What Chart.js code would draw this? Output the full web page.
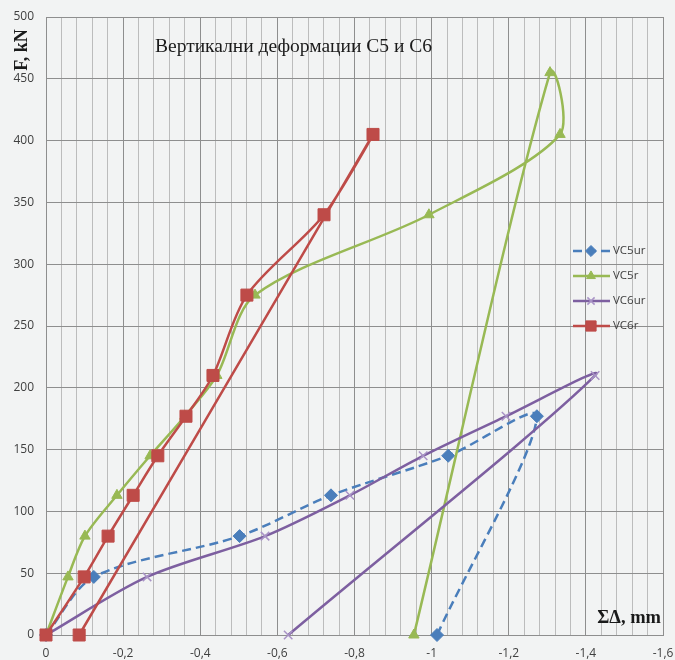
<!DOCTYPE html>
<html><head><meta charset="utf-8">
<script src="https://cdn.jsdelivr.net/npm/chart.js@4/dist/chart.umd.min.js"></script>
<style>
html,body{margin:0;padding:0;background:#f2f3f3;}
#wrap{position:relative;width:675px;height:660px;}
canvas{display:block;}
</style></head><body>
<div id="wrap"><canvas id="c" width="675" height="660"></canvas></div>
<script>
// ---- data ----
const seriesNames = ['VC5ur', 'VC5r', 'VC6ur', 'VC6r'];
const vc5urX = [0, -0.124, -0.502, -0.739, -1.043, -1.273, -1.014];
const vc5urF = [0, 47, 80, 113, 145, 177, 0];
const vc5rX  = [0, -0.057, -0.101, -0.184, -0.27, -0.36, -0.443, -0.542, -0.993, -1.333, -1.307, -0.954];
const vc5rF  = [0, 47, 80, 113, 145, 177, 210, 275, 340, 405, 455, 0];
const vc6urX = [0, -0.262, -0.568, -0.788, -0.978, -1.193, -1.424, -0.628];
const vc6urF = [0, 47, 80, 113, 145, 177, 210, 0];
const vc6rX  = [0, -0.099, -0.161, -0.226, -0.29, -0.363, -0.433, -0.521, -0.721, -0.848, -0.086];
const vc6rF  = [0, 47, 80, 113, 145, 177, 210, 275, 340, 405, 0];
const xMin = -1.6, xMax = 0, xStep = 0.04, xLabelEvery = 5;
const yMin = 0, yMax = 500, yStep = 50;
const titleText = 'Вертикални деформации С5 и С6';
const yTitleText = 'F, kN';
const xTitleText = 'ΣΔ, mm';

const pts = (xs, ys) => xs.map((x, i) => ({x: x, y: ys[i]}));

const styles = [
  {color:'#4a7ebb', dash:[9,5], pointStyle:'rectRot', radius:6.5, pointColor:'#4a7ebb', pbw:1},
  {color:'#98b954', dash:[], pointStyle:'triangle', radius:6, pointColor:'#98b954', pbw:1},
  {color:'#7d5fa0', dash:[], pointStyle:'crossRot', radius:6, pointColor:'#a993c6', pbw:1.5},
  {color:'#be4b48', dash:[], pointStyle:'rect', radius:8.5, pointColor:'#be4b48', pbw:1}
];
const seriesData = [pts(vc5urX, vc5urF), pts(vc5rX, vc5rF), pts(vc6urX, vc6urF), pts(vc6rX, vc6rF)];

const datasets = seriesNames.map((name, i) => ({
  label: name,
  data: seriesData[i],
  borderColor: styles[i].color,
  backgroundColor: styles[i].pointColor,
  borderWidth: 2.5,
  borderDash: styles[i].dash,
  tension: 0.3,
  pointStyle: styles[i].pointStyle,
  pointRadius: styles[i].radius,
  pointBackgroundColor: styles[i].pointColor,
  pointBorderColor: styles[i].pointColor,
  pointBorderWidth: styles[i].pbw,
  fill: false,
  clip: false,
  order: 3 - i
}));

const tickFont = {family: '"Open Sans", "DejaVu Sans", sans-serif', size: 12};
const noPad = (s) => { s.paddingLeft = 0; s.paddingRight = 0; s.paddingTop = 0; s.paddingBottom = 0; };

const decor = {
  id: 'decor',
  afterDatasetsDraw(chart) {
    const ctx = chart.ctx, a = chart.chartArea;
    ctx.save();
    // title
    ctx.fillStyle = '#1a1a1a';
    ctx.font = '19.5px "Liberation Serif", "DejaVu Serif", serif';
    ctx.textAlign = 'left'; ctx.textBaseline = 'alphabetic';
    ctx.fillText(titleText, a.left + 109, a.top + 35);
    // x title
    ctx.font = 'bold 18.5px "Liberation Serif", serif';
    ctx.textAlign = 'right';
    ctx.fillText(xTitleText, a.right - 2, a.bottom - 12);
    // y title
    ctx.save();
    ctx.translate(22, a.top + 33);
    ctx.rotate(-Math.PI / 2);
    ctx.font = 'bold 18px "Liberation Serif", serif';
    ctx.textAlign = 'center'; ctx.textBaseline = 'middle';
    ctx.fillText(yTitleText, 0, 0);
    ctx.restore();
    // legend
    const lx0 = a.left + 527, lx1 = a.left + 564, mx = a.left + 545, tx = a.left + 567;
    const ly0 = a.top + 234, ldy = 25;
    ctx.font = '11.5px "Open Sans", "DejaVu Sans", sans-serif';
    chart.data.datasets.forEach((ds, i) => {
      const y = ly0 + i * ldy;
      ctx.save();
      ctx.strokeStyle = ds.borderColor; ctx.lineWidth = ds.borderWidth;
      ctx.setLineDash(ds.borderDash || []);
      ctx.beginPath(); ctx.moveTo(lx0, y); ctx.lineTo(lx1, y); ctx.stroke();
      ctx.setLineDash([]);
      ctx.fillStyle = ds.pointBackgroundColor; ctx.strokeStyle = ds.pointBorderColor;
      ctx.lineWidth = ds.pointBorderWidth;
      if (Chart.helpers && Chart.helpers.drawPoint) {
        Chart.helpers.drawPoint(ctx, {pointStyle: ds.pointStyle, radius: ds.pointRadius * 0.85, rotation: 0, borderWidth: ds.pointBorderWidth}, mx, y);
      }
      ctx.restore();
      ctx.fillStyle = '#404040';
      ctx.textAlign = 'left'; ctx.textBaseline = 'middle';
      ctx.fillText(ds.label, tx, y);
    });
    ctx.restore();
  }
};

new Chart(document.getElementById('c'), {
  type: 'line',
  data: {datasets: datasets},
  plugins: [decor],
  options: {
    responsive: false,
    animation: false,
    events: [],
    layout: {padding: {top: 17, right: 12, left: 0, bottom: 0}},
    plugins: {legend: {display: false}, tooltip: {enabled: false}, title: {display: false}},
    scales: {
      x: {
        type: 'linear', reverse: true, min: xMin, max: xMax,
        ticks: {
          stepSize: xStep, autoSkip: false, maxRotation: 0, padding: 11,
          color: '#404040', font: tickFont,
          callback: (v) => {
            const k = Math.round(Math.abs(v) / xStep);
            if (k % xLabelEvery) return '';
            const r = Math.round(v * 10) / 10;
            return r === 0 ? '0' : String(r).replace('.', ',');
          }
        },
        grid: {
          drawTicks: false, lineWidth: 1,
          color: (c) => {
            const v = c.tick ? c.tick.value : 0;
            const k = Math.round(Math.abs(v) / xStep);
            return k % xLabelEvery === 0 ? '#8e8e8e' : '#bcbcbc';
          }
        },
        border: {display: true, color: '#8e8e8e'},
        afterFit: (s) => { s.height = 25; noPad(s); }
      },
      y: {
        type: 'linear', min: yMin, max: yMax,
        ticks: {stepSize: yStep, padding: 12, color: '#404040', font: tickFont},
        grid: {drawTicks: false, color: '#8e8e8e', lineWidth: 1},
        border: {display: true, color: '#8e8e8e'},
        afterFit: (s) => { s.width = 46; noPad(s); }
      }
    }
  }
});
</script>
</body></html>
